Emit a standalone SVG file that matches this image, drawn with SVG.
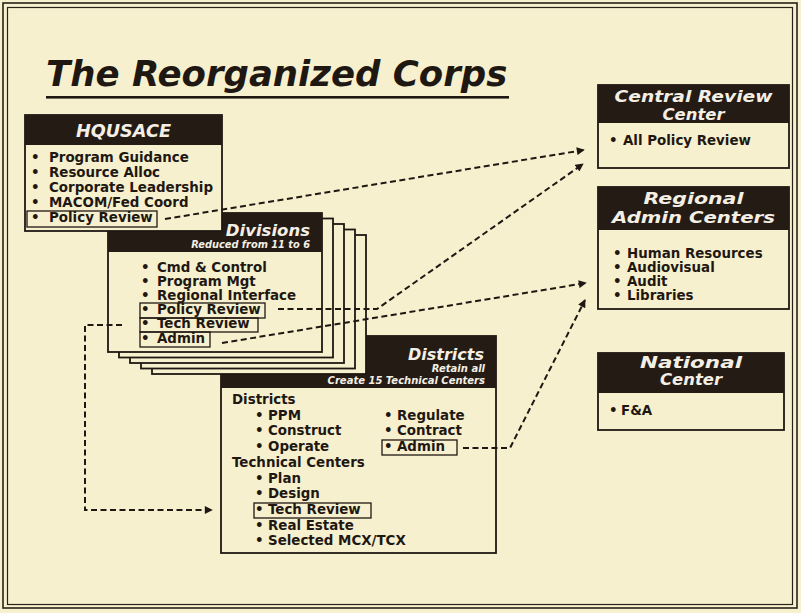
<svg xmlns="http://www.w3.org/2000/svg" width="801" height="613" viewBox="0 0 801 613">
<defs>
<style>
.bg{fill:#f7f0cf}
.hdr{fill:#241b15}
.box{fill:#f7f0cf;stroke:#1f1812;stroke-width:1.8}
.ibox{fill:none;stroke:#1f1812;stroke-width:1.3}
.t{font-family:"DejaVu Sans","Liberation Sans",sans-serif;font-weight:bold;font-size:13.4px;fill:#1f1812}
.h{font-family:"DejaVu Sans","Liberation Sans",sans-serif;font-weight:bold;font-style:italic;fill:#f4efe4}
.c{fill:none;stroke:#1f1812;stroke-width:2;stroke-dasharray:6 3.5}
.frame{fill:none;stroke:#2a221a}
</style>
<marker id="ah" viewBox="0 0 10 10" refX="9" refY="5" markerWidth="9" markerHeight="8" markerUnits="userSpaceOnUse" orient="auto">
<path d="M0,0 L10,5 L0,10 z" fill="#1f1812"/>
</marker>
</defs>
<rect class="bg" x="0" y="0" width="801" height="613"/>
<rect class="frame" x="3" y="3" width="794" height="605" stroke-width="1.6"/>
<rect class="frame" x="7.5" y="7.5" width="785" height="597" stroke-width="1.2"/>

<g id="title">
<text x="46" y="86" style="font-family:'DejaVu Sans','Liberation Sans',sans-serif;font-weight:bold;font-style:italic;font-size:35.5px;fill:#1f1812">The Reorganized Corps</text>
<rect x="46" y="96" width="463" height="2.6" fill="#1f1812"/>
</g>

<g id="districts">
<rect class="box" x="221" y="336" width="275" height="217"/>
<rect class="hdr" x="221" y="336" width="275" height="52"/>
<text class="h" x="484" y="360" text-anchor="end" font-size="16">Districts</text>
<text class="h" x="485" y="372" text-anchor="end" font-size="10">Retain all</text>
<text class="h" x="485" y="384" text-anchor="end" font-size="10">Create 15 Technical Centers</text>
<text class="t" x="232" y="404">Districts</text>
<text class="t" y="419.7"><tspan x="255">•</tspan><tspan x="268">PPM</tspan></text>
<text class="t" y="435.4"><tspan x="255">•</tspan><tspan x="268">Construct</tspan></text>
<text class="t" y="451.1"><tspan x="255">•</tspan><tspan x="268">Operate</tspan></text>
<text class="t" y="419.7"><tspan x="384">•</tspan><tspan x="397">Regulate</tspan></text>
<text class="t" y="435.4"><tspan x="384">•</tspan><tspan x="397">Contract</tspan></text>
<text class="t" y="451.1"><tspan x="384">•</tspan><tspan x="397">Admin</tspan></text>
<rect class="ibox" x="382" y="440" width="75" height="15"/>
<text class="t" x="232" y="466.8">Technical Centers</text>
<text class="t" y="482.5"><tspan x="255">•</tspan><tspan x="268">Plan</tspan></text>
<text class="t" y="498.2"><tspan x="255">•</tspan><tspan x="268">Design</tspan></text>
<text class="t" y="513.9"><tspan x="255">•</tspan><tspan x="268">Tech Review</tspan></text>
<rect class="ibox" x="254" y="503" width="117" height="15"/>
<text class="t" y="529.6"><tspan x="255">•</tspan><tspan x="268">Real Estate</tspan></text>
<text class="t" y="545.3"><tspan x="255">•</tspan><tspan x="268">Selected MCX/TCX</tspan></text>
</g>

<g id="divisions">
<rect class="box" x="152" y="235" width="214" height="139"/>
<rect class="box" x="141" y="229.5" width="214" height="139"/>
<rect class="box" x="130" y="224" width="214" height="139"/>
<rect class="box" x="119" y="218.5" width="214" height="139"/>
<rect class="box" x="108" y="213" width="214" height="139"/>
<rect class="hdr" x="108" y="213" width="214" height="39"/>
<text class="h" x="310" y="235.5" text-anchor="end" font-size="16.5">Divisions</text>
<text class="h" x="310" y="248" text-anchor="end" font-size="9.8">Reduced from 11 to 6</text>
<text class="t" y="272"><tspan x="141">•</tspan><tspan x="157">Cmd &amp; Control</tspan></text>
<text class="t" y="286"><tspan x="141">•</tspan><tspan x="157">Program Mgt</tspan></text>
<text class="t" y="300"><tspan x="141">•</tspan><tspan x="157">Regional Interface</tspan></text>
<text class="t" y="314"><tspan x="141">•</tspan><tspan x="157">Policy Review</tspan></text>
<text class="t" y="328"><tspan x="141">•</tspan><tspan x="157">Tech Review</tspan></text>
<text class="t" y="343"><tspan x="141">•</tspan><tspan x="157">Admin</tspan></text>
<rect class="ibox" x="140" y="303" width="125" height="15"/>
<rect class="ibox" x="140" y="318" width="118" height="14"/>
<rect class="ibox" x="140" y="332" width="70" height="15"/>
</g>

<g id="hqusace">
<rect class="box" x="25" y="115" width="197" height="116"/>
<rect class="hdr" x="25" y="115" width="197" height="30"/>
<text class="h" x="123.5" y="137" text-anchor="middle" font-size="17.7">HQUSACE</text>
<text class="t" y="162"><tspan x="31">•</tspan><tspan x="49">Program Guidance</tspan></text>
<text class="t" y="177"><tspan x="31">•</tspan><tspan x="49">Resource Alloc</tspan></text>
<text class="t" y="192"><tspan x="31">•</tspan><tspan x="49" textLength="164" lengthAdjust="spacingAndGlyphs">Corporate Leadership</tspan></text>
<text class="t" y="207"><tspan x="31">•</tspan><tspan x="49">MACOM/Fed Coord</tspan></text>
<text class="t" y="222"><tspan x="31">•</tspan><tspan x="49">Policy Review</tspan></text>
<rect class="ibox" x="27" y="211" width="130" height="16"/>
</g>

<g id="central-review">
<rect class="box" x="598" y="85" width="191" height="83"/>
<rect class="hdr" x="598" y="85" width="191" height="38"/>
<text class="h" x="693.5" y="101.5" text-anchor="middle" font-size="15.5" textLength="158" lengthAdjust="spacingAndGlyphs">Central Review</text>
<text class="h" x="693.5" y="119.5" text-anchor="middle" font-size="15.5" textLength="62" lengthAdjust="spacingAndGlyphs">Center</text>
<text class="t" y="145" font-size="14.5"><tspan x="609">•</tspan><tspan x="623">All Policy Review</tspan></text>
</g>

<g id="regional-admin">
<rect class="box" x="598" y="187" width="191" height="122"/>
<rect class="hdr" x="598" y="187" width="191" height="43"/>
<text class="h" x="693.5" y="204" text-anchor="middle" font-size="16" textLength="100" lengthAdjust="spacingAndGlyphs">Regional</text>
<text class="h" x="693.5" y="222.5" text-anchor="middle" font-size="16" textLength="163" lengthAdjust="spacingAndGlyphs">Admin Centers</text>
<text class="t" y="258"><tspan x="613">•</tspan><tspan x="627">Human Resources</tspan></text>
<text class="t" y="272"><tspan x="613">•</tspan><tspan x="627">Audiovisual</tspan></text>
<text class="t" y="286"><tspan x="613">•</tspan><tspan x="627">Audit</tspan></text>
<text class="t" y="300"><tspan x="613">•</tspan><tspan x="627">Libraries</tspan></text>
</g>

<g id="national-center">
<rect class="box" x="598" y="353" width="186" height="77"/>
<rect class="hdr" x="598" y="353" width="186" height="40"/>
<text class="h" x="691" y="368" text-anchor="middle" font-size="16.5" textLength="102" lengthAdjust="spacingAndGlyphs">National</text>
<text class="h" x="691" y="385" text-anchor="middle" font-size="16.5" textLength="62" lengthAdjust="spacingAndGlyphs">Center</text>
<text class="t" y="415" font-size="11.5"><tspan x="609">•</tspan><tspan x="621">F&amp;A</tspan></text>
</g>

<g id="connectors">
<path class="c" d="M165,219 L584,150" marker-end="url(#ah)"/>
<path class="c" d="M278,309 L377,309 L583,164" marker-end="url(#ah)"/>
<path class="c" d="M222,343 L586,283" marker-end="url(#ah)"/>
<path class="c" d="M463,448 L510,448 L585,300" marker-end="url(#ah)"/>
<path class="c" d="M122,325 L85,325 L85,510 L212,510" marker-end="url(#ah)"/>
</g>
</svg>
